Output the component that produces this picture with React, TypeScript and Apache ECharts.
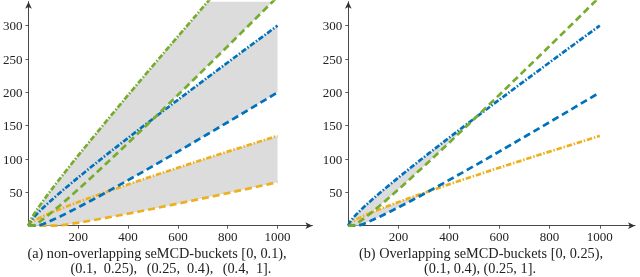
import React, { useEffect, useRef } from 'react';
import * as echarts from 'echarts';

// sample positions (number of items)
const XS = [0, 5, 10, 20, 40, 60, 80, 100, 125, 150, 200, 250, 300, 320, 350, 400, 450, 500, 510, 550, 600, 700, 720, 800, 850, 900, 1000];

// bucket boundary 0.1 (orange)
const UPPER_01 = [0, 3.0, 4.5, 6.9, 10.9, 14.5, 17.8, 21.0, 24.8, 28.4, 35.5, 42.4, 49.0, 51.6, 55.5, 62.0, 68.3, 74.6, 75.8, 80.8, 86.9, 99.1, 101.5, 111.1, 117.0, 122.9, 134.7];
const LOWER_01 = [0, 0, 0, 0, 0, 0, 0, 0, 0.2, 1.6, 4.5, 7.6, 11.0, 12.4, 14.5, 18.0, 21.7, 25.4, 26.2, 29.3, 33.1, 41.0, 42.5, 48.9, 53.0, 57.1, 65.3];
// bucket boundary 0.25 (blue)
const UPPER_025 = [0, 4.8, 7.5, 12.1, 20.0, 27.3, 34.2, 40.9, 49.0, 56.9, 72.4, 87.6, 102.5, 108.4, 117.2, 131.7, 146.1, 160.4, 163.3, 174.7, 188.8, 216.9, 222.5, 244.8, 258.7, 272.6, 300.1];
const LOWER_025 = [0, 0, 0, 0, 0, 2.7, 5.8, 9.2, 13.5, 18.1, 27.6, 37.4, 47.5, 51.7, 57.9, 68.3, 78.9, 89.6, 91.7, 100.3, 111.2, 133.1, 137.5, 155.2, 166.3, 177.5, 199.9];
// bucket boundary 0.4 (green)
const UPPER_04 = [0, 6.0, 9.7, 16.0, 27.3, 37.9, 48.0, 57.9, 70.0, 82.0, 105.4, 128.3, 151.1, 160.1, 173.5, 195.9, 218.0, 240.1, 244.5, 262.0, 283.9, 327.4, 336.1, 370.7, 392.3, 413.8, 456.7];
const LOWER_04 = [0, 0, 0, 0, 4.7, 10.1, 16.0, 22.1, 30.0, 38.0, 54.6, 71.7, 88.9, 95.9, 106.5, 124.1, 142.0, 159.9, 163.5, 178.0, 196.1, 232.6, 239.9, 269.3, 287.7, 306.2, 343.3];

const X_TICKS = [200, 400, 600, 800, 1000];
const Y_TICKS = [50, 100, 150, 200, 250, 300];

const ORANGE = '#EDB120';
const BLUE = '#0072BD';
const GREEN = '#77AC30';
const GRAY = '#dcdcdc';
const INK = '#222';
const FONT = 'Liberation Serif';
const FS = 13;
const CFS = 14.3;
const DASHED = [7, 4];
const DASHDOT = [5.5, 1.8, 1.5, 1.8];

function band(gi: number, lower: number[], upper: number[]) {
  return {
    type: 'custom',
    xAxisIndex: gi,
    yAxisIndex: gi,
    data: [[0, 0]],
    z: 1,
    silent: true,
    clip: true,
    renderItem: (params: any, api: any) => {
      const pts: number[][] = [];
      for (let i = 0; i < XS.length; i++) pts.push(api.coord([XS[i], upper[i]]));
      for (let i = XS.length - 1; i >= 0; i--) pts.push(api.coord([XS[i], lower[i]]));
      return { type: 'polygon', shape: { points: pts }, style: { fill: GRAY, stroke: null } };
    },
  };
}

function line(gi: number, ys: number[], color: string, dash: number[]) {
  return {
    type: 'line',
    xAxisIndex: gi,
    yAxisIndex: gi,
    data: XS.map((x, i) => [x, ys[i]]),
    showSymbol: false,
    symbol: 'none',
    silent: true,
    z: 3,
    lineStyle: { color, width: 2.7, type: dash, cap: 'butt' },
  };
}

function xAxis(gi: number) {
  return {
    type: 'value',
    gridIndex: gi,
    min: 0,
    max: 1140,
    interval: 200,
    axisLine: { show: true, onZero: false, lineStyle: { color: '#333', width: 0.9 }, symbol: ['none', 'arrow'], symbolSize: [5, 7] },
    axisTick: { show: true, customValues: X_TICKS, length: 3, lineStyle: { color: '#333', width: 0.8 } },
    axisLabel: { customValues: X_TICKS, margin: 4, fontFamily: FONT, fontSize: FS, color: INK, formatter: (v: number) => String(v) },
    splitLine: { show: false },
  };
}

function yAxis(gi: number) {
  return {
    type: 'value',
    gridIndex: gi,
    min: 0,
    max: 336,
    interval: 50,
    axisLine: { show: true, onZero: false, lineStyle: { color: '#333', width: 0.9 }, symbol: ['none', 'arrow'], symbolSize: [5, 7] },
    axisTick: { show: true, customValues: Y_TICKS, length: 3, lineStyle: { color: '#333', width: 0.8 } },
    axisLabel: { customValues: Y_TICKS, margin: 6, fontFamily: FONT, fontSize: FS, color: INK, formatter: (v: number) => String(v) },
    splitLine: { show: false },
  };
}

const rich = {
  n: { fontFamily: FONT, fontSize: CFS, color: INK },
  o: { fontFamily: FONT, fontSize: CFS, color: ORANGE },
  b: { fontFamily: FONT, fontSize: CFS, color: BLUE },
  g: { fontFamily: FONT, fontSize: CFS, color: GREEN },
  s: { fontFamily: FONT, fontSize: CFS, color: INK, width: 7 },
  w: { fontFamily: FONT, fontSize: CFS, color: INK, width: 9.5 },
};

function caption(x: number, y: number, text: string) {
  return {
    type: 'text',
    x,
    y,
    silent: true,
    style: { text, rich, fontFamily: FONT, fontSize: CFS, fill: INK, align: 'center', verticalAlign: 'middle' },
  };
}

export default function App() {
  const ref = useRef<HTMLDivElement>(null);
  useEffect(() => {
    if (!ref.current) return;
    const chart = echarts.init(ref.current, null, { renderer: 'svg' });
    const bandA_up = XS.map((_, i) => Math.max(UPPER_01[i], LOWER_025[i]));
    const bandB_up = XS.map((_, i) => Math.max(UPPER_025[i], LOWER_04[i]));
    chart.setOption({
      animation: false,
      grid: [
        { left: 25.7, top: 1.7, width: 286.7, height: 224 },
        { left: 348.3, top: 1.7, width: 286.7, height: 224 },
      ],
      xAxis: [xAxis(0), xAxis(1)],
      yAxis: [yAxis(0), yAxis(1)],
      series: [
        band(0, LOWER_01, UPPER_01),
        band(0, LOWER_025, UPPER_025),
        band(0, LOWER_04, UPPER_04),
        line(0, LOWER_01, ORANGE, DASHED),
        line(0, UPPER_01, ORANGE, DASHDOT),
        line(0, LOWER_025, BLUE, DASHED),
        line(0, UPPER_025, BLUE, DASHDOT),
        line(0, LOWER_04, GREEN, DASHED),
        line(0, UPPER_04, GREEN, DASHDOT),
        band(1, LOWER_025, bandA_up),
        band(1, LOWER_04, bandB_up),
        line(1, UPPER_01, ORANGE, DASHDOT),
        line(1, LOWER_025, BLUE, DASHED),
        line(1, UPPER_025, BLUE, DASHDOT),
        line(1, LOWER_04, GREEN, DASHED),
      ],
      graphic: [
        caption(157, 253, '{n|(a) non-overlapping seMCD-buckets [0, }{o|0.1}{n|),}'),
        caption(171, 268, '{n|(}{o|0.1}{n|,}{s| }{b|0.25}{n|),}{w| }{n|(}{b|0.25}{n|,}{s| }{g|0.4}{n|),}{w| }{n|(}{g|0.4}{n|,}{s| }{n|1].}'),
        caption(481, 253, '{n|(b) Overlapping seMCD-buckets [0, }{b|0.25}{n|),}'),
        caption(480, 268, '{n|(}{o|0.1}{n|, }{g|0.4}{n|), (}{b|0.25}{n|, 1].}'),
      ],
    });
    return () => chart.dispose();
  }, []);
  return <div ref={ref} style={{ position: 'fixed', left: 0, top: 0, width: 640, height: 277 }} />;
}
